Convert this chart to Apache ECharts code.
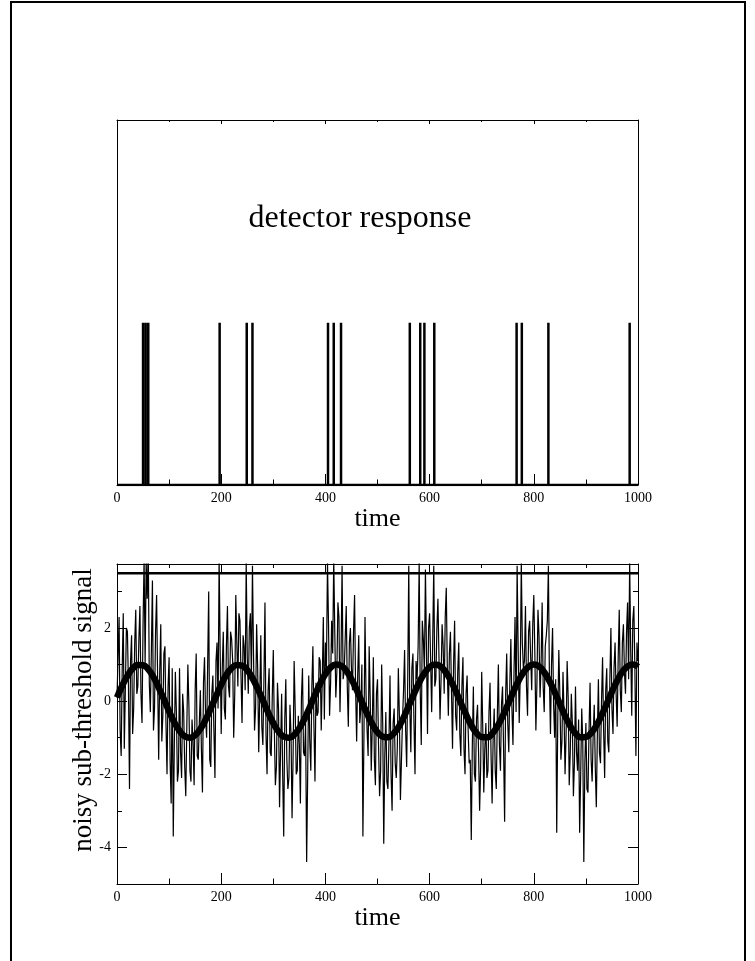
<!DOCTYPE html>
<html>
<head>
<meta charset="utf-8">
<script src="https://cdn.jsdelivr.net/npm/echarts@6/dist/echarts.min.js"></script>
<style>
  html, body { margin: 0; padding: 0; background: #fff; }
  #chart { width: 755px; height: 961px; }
</style>
</head>
<body>
<div id="chart"></div>
<script>
// detector fires when the noisy signal crosses the threshold
const spikeTimes = [50, 55, 60, 197, 249, 260, 405, 416, 430, 562, 582, 590, 609, 767, 777, 828, 984];
const spikeHeight = 1;
const threshold = 3.5;
const signalTicks = [-4, -2, 0, 2];
const signalMinorTicks = [-3, -1, 1, 3];

// periodic sub-threshold signal, read every 10 time units
const signalStep = 10;
const signal = [
  0.10, 0.42, 0.69, 0.89, 0.99, 0.98, 0.87, 0.66, 0.37, 0.05,
  -0.28, -0.58, -0.81, -0.96, -1.00, -0.93, -0.76, -0.51, -0.20, 0.13,
  0.45, 0.72, 0.90, 0.99, 0.97, 0.85, 0.63, 0.34, 0.02, -0.31,
  -0.60, -0.83, -0.97, -1.00, -0.92, -0.74, -0.48, -0.17, 0.17, 0.48,
  0.74, 0.92, 1.00, 0.97, 0.83, 0.60, 0.31, -0.02, -0.34, -0.63,
  -0.85, -0.97, -0.99, -0.90, -0.72, -0.45, -0.13, 0.20, 0.51, 0.76,
  0.93, 1.00, 0.96, 0.81, 0.58, 0.28, -0.05, -0.37, -0.66, -0.87,
  -0.98, -0.99, -0.89, -0.69, -0.42, -0.10, 0.23, 0.54, 0.78, 0.94,
  1.00, 0.95, 0.79, 0.55, 0.25, -0.08, -0.40, -0.68, -0.88, -0.99,
  -0.98, -0.87, -0.67, -0.39, -0.07, 0.26, 0.56, 0.80, 0.95, 1.00,
  0.94
];

// noisy signal, read at t = 0, 4, 8, ... 1000
const noiseStep = 4;
const noisyEven = [
  0.1, 2.3, -1.5, 2.4, 0.3, 1.9, -2.4, 1.8, -0.2, 2.5,
  0.4, 2.6, -0.6, 3.9, 3.8, 4.2, -0.3, 3.3, -0.2, 2.9,
  -1.6, 2.1, -0.4, 1.5, -2.0, 1.2, -2.8, -3.7, 0.8, -2.2,
  0.9, -2.1, -0.3, -2.6, 1.0, -1.9, -0.5, -2.3, 1.3, -1.6,
  0.3, -2.5, 1.2, -1.0, 3.0, -1.8, 0.7, -2.1, 1.6, 3.9,
  -0.9, 1.9, -0.5, 2.6, 0.1, 1.7, -1.0, 2.9, 0.4, 2.2,
  -0.6, 1.5, 3.8, 0.2, 2.4, 3.7, -0.8, 2.1, -1.4, 1.8,
  -1.2, 2.7, -2.0, 0.9, -1.5, 1.4, -2.3, 0.5, -2.9, 0.2,
  -3.7, 0.6, -2.4, -0.1, -3.2, 1.1, -2.0, -0.4, -2.8, 0.9,
  -1.5, -4.4, 0.7, -1.9, 1.5, -2.2, -0.4, 1.2, -0.8, 2.3,
  1.6, 3.8, -0.4, 2.2, 3.9, 0.1, 2.7, -0.3, 3.7, 0.8,
  2.6, -0.7, 2.0, 0.3, 2.9, -1.1, 1.8, -0.2, -3.7, 2.3,
  -0.8, 1.5, -1.9, 1.2, -2.3, 0.6, -2.6, 1.0, -3.9, -0.3,
  -2.4, 0.7, -3.0, -0.2, -2.1, 0.9, -2.7, -0.5, 1.4, -1.8,
  3.7, -1.4, 1.3, -2.0, 0.6, 3.8, -1.2, 1.7, 3.6, -0.9,
  2.4, -0.3, 3.7, 0.6, 2.8, -0.5, 2.1, 0.2, 3.1, -0.4,
  1.9, -1.3, 2.2, -0.8, 1.6, -1.5, 1.2, -2.0, 0.7, -1.7,
  -3.8, 0.4, -2.2, -0.1, -3.0, 0.8, -2.5, -0.6, -1.9, 0.5,
  -2.8, -0.2, -2.4, 1.0, -1.9, 0.4, -3.3, 1.3, -1.4, 1.7,
  -1.2, 2.3, 3.7, -0.6, 3.8, 0.9, 2.6, -0.4, 2.2, 0.3,
  2.9, -0.8, 2.5, 0.1, 2.7, -0.3, 1.8, 3.7, -0.9, 2.0,
  -1.0, -3.6, 1.4, -1.6, 0.8, -2.0, 1.1, -2.3, 0.2, -2.6,
  0.4, -1.9, -3.6, -0.2, -4.4, -0.6, -2.5, 0.5, -2.2, -0.1,
  -2.9, 0.6, -1.7, 1.2, -2.1, 0.9, -1.4, 2.0, -0.9, 1.6,
  -0.7, 2.5, -0.3, 2.1, 0.2, 2.7, 3.8, -0.4, 2.6, -1.5,
  1.1
];
// noisy signal, read at t = 2, 6, 10, ... 998
const noisyOdd = [
  1.2, -0.8, 0.9, -1.3, 2.0, 0.4, 1.1, -0.9, 1.6, 0.2,
  1.7, 0.2, 2.1, 1.0, 2.8, 0.5, 1.4, -0.8, 1.9, 0.6,
  0.8, -1.1, 1.3, -0.6, 0.4, -1.7, 0.9, -1.2, -0.3, -1.9,
  -1.4, 0.2, -1.8, -0.7, -0.1, -2.2, -1.1, 0.3, -1.5, -0.6,
  -1.3, 0.5, -0.4, 1.0, -1.6, 0.2, -0.8, 1.1, -0.2, 1.4,
  0.9, -0.2, 1.5, 0.4, 1.9, 1.1, 0.2, 1.6, 2.4, 0.7,
  1.8, 0.3, 1.2, 2.0, 0.6, 1.3, -0.2, 0.9, 0.1, -0.7,
  0.6, -0.9, 0.3, -1.4, 0.1, -0.8, -1.8, -0.2, -1.3, -2.0,
  -0.5, -1.6, -2.1, -0.9, -1.5, -0.2, -1.9, -1.2, 0.1, -1.4,
  -0.6, -2.0, -1.1, 0.4, -0.7, 0.5, -0.3, 1.1, 0.6, -0.5,
  0.9, 2.1, 0.5, 1.3, 1.9, 0.8, 2.3, 1.2, 0.6, 1.7,
  0.4, 1.6, 0.9, 1.9, 0.3, 0.7, -0.6, 1.0, -0.9, 0.2,
  -1.5, 0.1, -0.7, -1.6, 0.2, -1.2, -1.9, -0.6, -1.5, -2.2,
  -1.1, -2.0, -0.6, -1.7, -1.3, -0.4, -1.6, 0.3, -0.8, 0.6,
  -0.2, 0.9, -0.6, 1.1, 1.5, 0.3, 2.2, 0.8, 1.4, 2.0,
  1.1, 1.7, 0.4, 2.0, 1.2, 0.6, 1.5, 2.3, 0.9, 1.3,
  0.3, 1.0, -0.4, 0.8, -0.9, 0.4, -1.3, 0.2, -0.8, -1.6,
  -1.2, -2.0, -0.5, -1.4, -1.8, -0.7, -1.3, -2.1, -0.3, -1.5,
  -1.0, -1.9, -0.4, -1.2, -0.1, -1.3, 0.2, -0.6, 0.5, -0.2,
  0.8, -0.3, 1.4, 0.7, 1.6, 1.1, 0.4, 1.9, 1.2, 2.1,
  1.3, 0.5, 1.8, 1.0, 0.4, 1.5, 2.2, 0.6, 1.0, -0.1,
  0.6, -0.5, 0.2, -1.1, -0.3, -0.9, 0.1, -1.4, -0.6, -1.7,
  -1.4, -0.5, -2.0, -1.1, -1.7, -2.4, -0.8, -1.6, -0.9, -1.8,
  -0.9, -1.4, 0.0, -0.8, 0.3, -1.1, 0.6, -0.2, 0.9, 0.2,
  1.2, 0.3, 1.6, 0.8, 1.9, 0.6, 1.4, 2.2, 0.9, 1.6
];

const font = 'Liberation Serif';
const black = '#000';

const responseData = [[0, 0]];
spikeTimes.forEach(t => responseData.push([t, 0], [t, spikeHeight], [t, 0]));
responseData.push([1000, 0]);

const noisyData = [];
noisyEven.forEach((v, i) => {
  noisyData.push([i * noiseStep, v]);
  if (i < noisyOdd.length) noisyData.push([i * noiseStep + noiseStep / 2, noisyOdd[i]]);
});

function timeAxis(gridIndex, position, labelled, tickLen) {
  return {
    type: 'value', gridIndex, position, min: 0, max: 1000, interval: 200,
    axisLine: {show: true, onZero: false, lineStyle: {color: black, width: 1}},
    axisTick: {show: true, inside: true, length: tickLen, lineStyle: {color: black}},
    minorTick: {show: true, splitNumber: 2, length: tickLen / 2, lineStyle: {color: black}},
    axisLabel: {show: labelled, color: black, fontFamily: font, fontSize: 14, margin: 6,
                formatter: v => String(v)},
    splitLine: {show: false},
    name: labelled ? 'time' : '',
    nameLocation: 'middle', nameGap: 18,
    nameTextStyle: {color: black, fontFamily: font, fontSize: 26}
  };
}

function signalAxis(position, ticks, tickLen, showLine, labelled) {
  return {
    type: 'value', gridIndex: 1, position, min: -5, max: 3.75,
    axisLine: {show: showLine, onZero: false, lineStyle: {color: black, width: 1}},
    axisTick: {show: true, inside: true, length: tickLen, customValues: ticks, lineStyle: {color: black}},
    axisLabel: {show: labelled, customValues: ticks, color: black, fontFamily: font, fontSize: 14, margin: 6},
    splitLine: {show: false}
  };
}

const chart = echarts.init(document.getElementById('chart'));
chart.setOption({
  animation: false,
  backgroundColor: '#fff',
  grid: [
    {left: 117, top: 120, width: 521, height: 365},
    {left: 117, top: 564, width: 521, height: 320}
  ],
  xAxis: [
    timeAxis(0, 'bottom', true, 11),
    timeAxis(0, 'top', false, 4),
    timeAxis(1, 'bottom', true, 11),
    timeAxis(1, 'top', false, 8)
  ],
  yAxis: [
    {type: 'value', gridIndex: 0, position: 'left', min: 0, max: 2.25,
     axisLine: {show: true, onZero: false, lineStyle: {color: black}},
     axisTick: {show: false}, axisLabel: {show: false}, splitLine: {show: false}},
    {type: 'value', gridIndex: 0, position: 'right', min: 0, max: 2.25,
     axisLine: {show: true, onZero: false, lineStyle: {color: black}},
     axisTick: {show: false}, axisLabel: {show: false}, splitLine: {show: false}},
    signalAxis('left', signalTicks, 10, true, true),
    signalAxis('left', signalMinorTicks, 5, false, false),
    signalAxis('right', signalTicks, 10, true, false),
    signalAxis('right', signalMinorTicks, 5, false, false)
  ],
  series: [
    {
      name: 'detector response', type: 'line', xAxisIndex: 0, yAxisIndex: 0,
      data: responseData, symbol: 'none',
      lineStyle: {color: black, width: 2.5}
    },
    {
      name: 'noisy', type: 'line', xAxisIndex: 2, yAxisIndex: 2,
      data: noisyData, symbol: 'none',
      lineStyle: {color: black, width: 1.2}
    },
    {
      name: 'signal', type: 'line', xAxisIndex: 2, yAxisIndex: 2,
      data: signal.map((v, i) => [i * signalStep, v]), symbol: 'none', smooth: true,
      lineStyle: {color: black, width: 6.5}
    },
    {
      name: 'threshold', type: 'line', xAxisIndex: 2, yAxisIndex: 2,
      data: [[0, threshold], [1000, threshold]], symbol: 'none',
      lineStyle: {color: black, width: 2.5}
    }
  ],
  graphic: [
    {type: 'rect', shape: {x: 11, y: 2, width: 734, height: 990},
     style: {fill: 'none', stroke: black, lineWidth: 2}},
    {type: 'text', x: 360, y: 219,
     style: {text: 'detector response', fontFamily: font, fontSize: 32, fill: black,
             align: 'center', verticalAlign: 'middle'}},
    {type: 'text', x: 84, y: 710, rotation: Math.PI / 2,
     style: {text: 'noisy sub-threshold signal', fontFamily: font, fontSize: 27, fill: black,
             align: 'center', verticalAlign: 'middle'}}
  ]
});
</script>
</body>
</html>
